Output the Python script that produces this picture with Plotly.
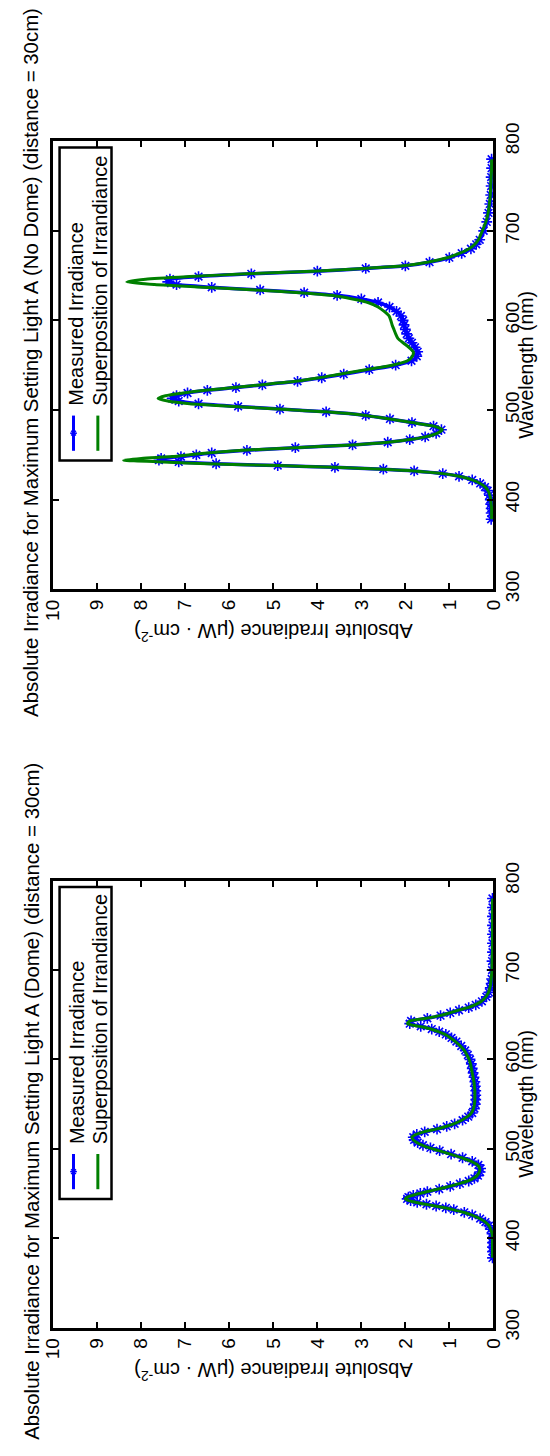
import plotly.graph_objects as go

# ---------------- data ----------------
wavelength = [378, 385, 390, 395, 400, 405, 410, 414, 418, 422,
              426, 429, 432, 434, 436, 438, 440, 442, 444, 446,
              448, 450, 452, 455, 458, 461, 464, 467, 470, 474,
              478, 482, 486, 490, 494, 498, 501, 504, 507, 510,
              513, 516, 519, 522, 525, 528, 532, 536, 540, 545,
              550, 555, 560, 565, 570, 575, 580, 585, 590, 595,
              600, 605, 610, 615, 620, 624, 628, 631, 634, 637,
              640, 643, 646, 649, 652, 655, 658, 661, 665, 670,
              675, 680, 685, 690, 700, 710, 720, 730, 740, 750,
              760, 770, 780]

# No Dome
nodome_measured = [0.05, 0.05, 0.05, 0.06, 0.07, 0.09, 0.13, 0.19, 0.30, 0.48,
                   0.78, 1.15, 1.80, 2.50, 3.60, 4.90, 6.30, 7.15, 7.60, 7.55,
                   7.10, 6.75, 6.40, 5.60, 4.50, 3.20, 2.40, 1.90, 1.55, 1.30,
                   1.18, 1.36, 1.85, 2.35, 2.90, 3.80, 4.85, 5.80, 6.70, 7.15,
                   7.30, 7.20, 6.95, 6.50, 5.85, 5.25, 4.45, 3.90, 3.40, 2.82,
                   2.22, 1.86, 1.74, 1.72, 1.78, 1.85, 1.92, 1.97, 2.00, 2.03,
                   2.05, 2.10, 2.20, 2.36, 2.62, 3.00, 3.55, 4.30, 5.30, 6.40,
                   7.20, 7.40, 7.35, 6.70, 5.50, 4.00, 2.90, 2.00, 1.45, 1.00,
                   0.72, 0.51, 0.39, 0.31, 0.22, 0.15, 0.11, 0.08, 0.06, 0.05,
                   0.05, 0.04, 0.04]
nodome_superposition = [0.04, 0.04, 0.04, 0.05, 0.06, 0.08, 0.12, 0.18, 0.30, 0.48,
                        0.78, 1.15, 1.80, 2.50, 3.60, 4.90, 6.50, 7.50, 8.40, 8.00,
                        7.30, 6.90, 6.50, 5.70, 4.50, 3.20, 2.40, 1.90, 1.55, 1.28,
                        1.16, 1.35, 1.85, 2.35, 2.90, 3.80, 4.90, 5.90, 6.90, 7.40,
                        7.62, 7.45, 7.05, 6.55, 5.90, 5.30, 4.50, 3.95, 3.50, 2.90,
                        2.30, 1.95, 1.84, 1.82, 1.92, 2.05, 2.17, 2.22, 2.26, 2.30,
                        2.33, 2.37, 2.48, 2.62, 2.85, 3.20, 3.68, 4.40, 5.40, 6.60,
                        7.70, 8.33, 7.90, 6.90, 5.60, 4.10, 2.95, 2.05, 1.50, 1.05,
                        0.76, 0.55, 0.42, 0.34, 0.25, 0.17, 0.12, 0.09, 0.07, 0.06,
                        0.05, 0.04, 0.04]

# Dome
dome_measured = [0.02, 0.02, 0.02, 0.02, 0.02, 0.03, 0.06, 0.10, 0.18, 0.30,
                 0.48, 0.66, 0.90, 1.08, 1.30, 1.52, 1.73, 1.88, 1.96, 1.93,
                 1.82, 1.66, 1.50, 1.23, 0.98, 0.76, 0.56, 0.43, 0.35, 0.30,
                 0.29, 0.34, 0.48, 0.70, 0.96, 1.22, 1.43, 1.60, 1.72, 1.80,
                 1.82, 1.74, 1.56, 1.28, 1.06, 0.88, 0.70, 0.57, 0.48, 0.43,
                 0.41, 0.40, 0.40, 0.40, 0.41, 0.42, 0.44, 0.46, 0.48, 0.50,
                 0.53, 0.58, 0.64, 0.73, 0.84, 0.95, 1.08, 1.23, 1.40, 1.65,
                 1.90, 1.87, 1.50, 1.20, 0.98, 0.78, 0.56, 0.40, 0.26, 0.16,
                 0.10, 0.07, 0.05, 0.04, 0.03, 0.03, 0.02, 0.02, 0.02, 0.02,
                 0.02, 0.02, 0.02]
dome_superposition = [0.02, 0.02, 0.02, 0.02, 0.02, 0.03, 0.06, 0.10, 0.18, 0.31,
                      0.50, 0.68, 0.92, 1.10, 1.32, 1.54, 1.75, 1.92, 2.00, 1.95,
                      1.83, 1.68, 1.52, 1.25, 1.00, 0.78, 0.58, 0.45, 0.37, 0.32,
                      0.31, 0.36, 0.50, 0.72, 0.98, 1.24, 1.45, 1.62, 1.74, 1.82,
                      1.85, 1.76, 1.58, 1.30, 1.08, 0.90, 0.72, 0.59, 0.50, 0.45,
                      0.43, 0.42, 0.42, 0.42, 0.43, 0.44, 0.46, 0.48, 0.50, 0.52,
                      0.55, 0.60, 0.66, 0.75, 0.86, 0.97, 1.10, 1.25, 1.42, 1.68,
                      1.95, 1.90, 1.52, 1.22, 1.00, 0.80, 0.58, 0.42, 0.27, 0.17,
                      0.11, 0.08, 0.06, 0.05, 0.03, 0.03, 0.02, 0.02, 0.02, 0.02,
                      0.02, 0.02, 0.02]

irradiance_ticks = [0, 1, 2, 3, 4, 5, 6, 7, 8, 9, 10]
wavelength_ticks = [300, 400, 500, 600, 700, 800]

titles = ["Absolute Irradiance for Maximum Setting Light A (No Dome) (distance = 30cm)",
          "Absolute Irradiance for Maximum Setting Light A (Dome) (distance = 30cm)"]
legend_labels = ["Measured Irradiance", "Superposition of Irrandiance"]
x_label = "Wavelength (nm)"
y_label = "Absolute Irradiance (\u03bcW \u00b7 cm<sup>-2</sup>)"

# ---------------- layout helpers ----------------
W, H = 550, 1456
FONT = "Liberation Sans, Arial, Helvetica, sans-serif"
BLUE = "#0000ff"
GREEN = "#008000"


def px(x):
    return x / W


def py(y):
    return 1 - y / H


BOX_L, BOX_R = 44, 501.5
panels = [
    dict(meas=nodome_measured, fit=nodome_superposition, title=titles[0],
         xa="x", ya="y", top=125, bottom=583),
    dict(meas=dome_measured, fit=dome_superposition, title=titles[1],
         xa="x2", ya="y2", top=881, bottom=1338),
]

fig = go.Figure()
axis_common = dict(showline=True, linecolor="black", linewidth=3, mirror="ticks",
                   ticks="inside", ticklen=6, tickwidth=2, tickcolor="black",
                   showgrid=False, zeroline=False, tickangle=-90,
                   tickfont=dict(family=FONT, size=19, color="black"))

shapes = []
annotations = []
for i, p in enumerate(panels):
    fig.add_trace(go.Scatter(x=p["meas"], y=wavelength, xaxis=p["xa"], yaxis=p["ya"],
                             mode="lines+markers", line=dict(color=BLUE, width=3.5, shape="spline", smoothing=0.6),
                             marker=dict(symbol="asterisk-open", size=9, color=BLUE,
                                         line=dict(color=BLUE, width=1.6)),
                             showlegend=False, hoverinfo="skip"))
    fig.add_trace(go.Scatter(x=p["fit"], y=wavelength, xaxis=p["xa"], yaxis=p["ya"],
                             mode="lines", line=dict(color=GREEN, width=3, shape="spline", smoothing=0.6),
                             showlegend=False, hoverinfo="skip"))
    sfx = "" if i == 0 else "2"
    fig.update_layout(**{
        "xaxis" + sfx: dict(domain=[px(BOX_L), px(BOX_R)], range=[10, 0],
                            tickvals=irradiance_ticks, anchor="y" + sfx, **axis_common),
        "yaxis" + sfx: dict(domain=[py(p["bottom"]), py(p["top"])], range=[300, 800],
                            tickvals=wavelength_ticks, side="right", anchor="x" + sfx, **axis_common),
    })
    cy = (p["top"] + p["bottom"]) / 2
    cx = (BOX_L + BOX_R) / 2
    annotations.append(dict(text=p["title"], x=px(21), y=py(cy - 2.5), xref="paper", yref="paper",
                            textangle=-90, showarrow=False, xanchor="center", yanchor="middle",
                            font=dict(family=FONT, size=20.4, color="black")))
    annotations.append(dict(text=x_label, x=px(536), y=py(cy), xref="paper", yref="paper",
                            textangle=-90, showarrow=False, xanchor="center", yanchor="middle",
                            font=dict(family=FONT, size=19.5, color="black")))
    annotations.append(dict(text=y_label, x=px(cx), y=py(p["bottom"] + 45), xref="paper", yref="paper",
                            textangle=180, showarrow=False, xanchor="center", yanchor="middle",
                            font=dict(family=FONT, size=20, color="black")))
    # legend
    lt = p["top"] + 6.5
    lb = p["bottom"] - 131.5
    shapes.append(dict(type="rect", xref="paper", yref="paper", x0=px(50.5), x1=px(104.5),
                       y0=py(lb), y1=py(lt), line=dict(color="black", width=2.5), fillcolor="white"))
    shapes.append(dict(type="line", xref="paper", yref="paper", x0=px(65), x1=px(65),
                       y0=py(lb - 10), y1=py(lb - 46), line=dict(color=BLUE, width=3)))
    shapes.append(dict(type="line", xref="paper", yref="paper", x0=px(90.3), x1=px(90.3),
                       y0=py(lb - 10), y1=py(lb - 46), line=dict(color=GREEN, width=3)))
    mx, my, r = 65, lb - 28, 3.5
    for dx, dy in [(r, 0), (0, r), (r * 0.7, r * 0.7), (r * 0.7, -r * 0.7)]:
        shapes.append(dict(type="line", xref="paper", yref="paper", x0=px(mx - dx), x1=px(mx + dx),
                           y0=py(my - dy), y1=py(my + dy), line=dict(color=BLUE, width=1.5)))
    for j, (lab, lx) in enumerate(zip(legend_labels, [68, 92.5])):
        annotations.append(dict(text=lab, x=px(lx), y=py(lb - 54), xref="paper", yref="paper",
                                textangle=-90, showarrow=False, xanchor="center", yanchor="bottom",
                                font=dict(family=FONT, size=20, color="black")))

fig.update_layout(width=W, height=H, margin=dict(l=0, r=0, t=0, b=0),
                  paper_bgcolor="white", plot_bgcolor="white", showlegend=False,
                  shapes=shapes, annotations=annotations)

fig.write_html("out.html")
